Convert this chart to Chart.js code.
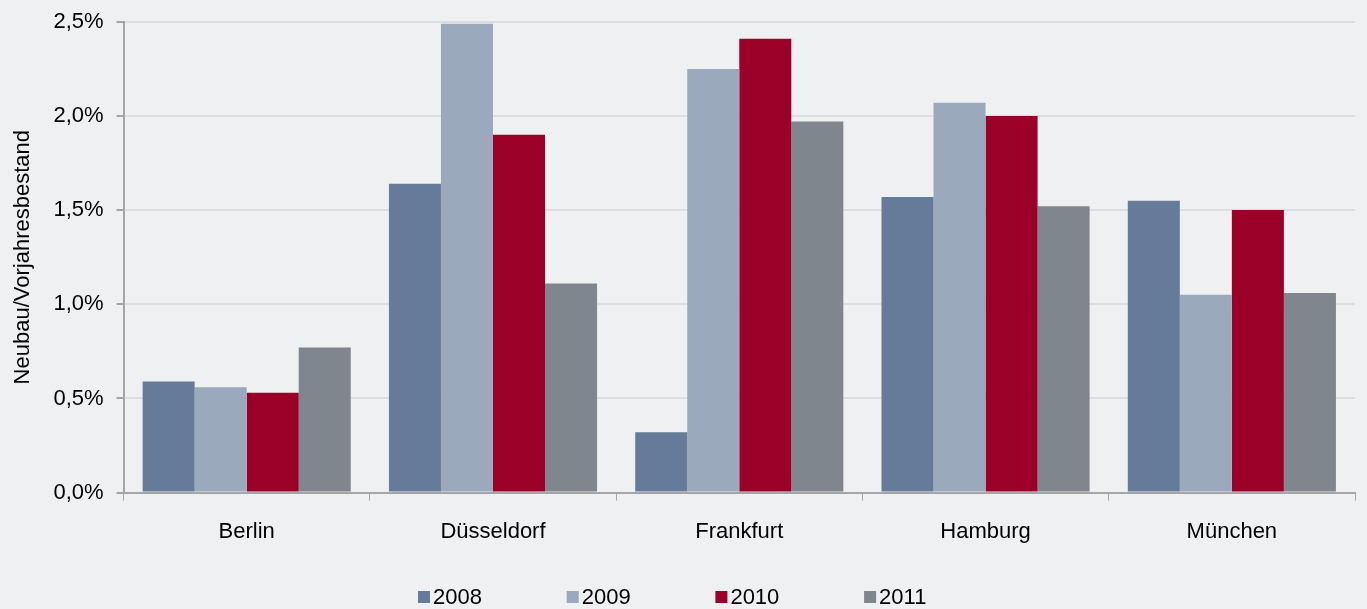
<!DOCTYPE html>
<html lang="de">
<head>
    <meta charset="UTF-8">
    <title>Neubau / Vorjahresbestand</title>
    <script src="https://cdn.jsdelivr.net/npm/chart.js"></script>
    <style>
        html, body { margin: 0; padding: 0; background: #eff0f2; }
        #wrap { width: 1367px; height: 609px; position: relative; }
    </style>
</head>
<body>
<div id="wrap">
    <canvas id="myChart" width="1367" height="609"></canvas>
</div>

<script>
    // Daten
    const staedte = ["Berlin", "Düsseldorf", "Frankfurt", "Hamburg", "München"];
    const jahre = ["2008", "2009", "2010", "2011"];
    const werte2008 = [0.59, 1.64, 0.32, 1.57, 1.55];
    const werte2009 = [0.56, 2.49, 2.25, 2.07, 1.05];
    const werte2010 = [0.53, 1.90, 2.41, 2.00, 1.50];
    const werte2011 = [0.77, 1.11, 1.97, 1.52, 1.06];
    const farben = ["#667b99", "#9aa9bb", "#9b0028", "#80868e"];

    const schrift = "'Liberation Sans Narrow', 'Liberation Sans', Arial, sans-serif";
    const groesse = 22;

    // Legende unten, mit breiten Abständen wie im Original
    const legendeUnten = {
        id: "legendeUnten",
        afterDraw(chart) {
            const ctx = chart.ctx;
            ctx.save();
            ctx.font = groesse + "px " + schrift;
            ctx.textBaseline = "middle";
            ctx.textAlign = "left";
            let x = 418;
            const y = 597;
            chart.data.datasets.forEach(ds => {
                ctx.fillStyle = ds.backgroundColor;
                ctx.fillRect(x, y - 6, 12, 12);
                ctx.fillStyle = "#000";
                ctx.fillText(ds.label, x + 15, y + 1);
                x += 148.7;
            });
            ctx.restore();
        }
    };

    const reihen = [werte2008, werte2009, werte2010, werte2011];

    new Chart(document.getElementById("myChart").getContext("2d"), {
        type: "bar",
        data: {
            labels: staedte,
            datasets: jahre.map((j, i) => ({
                label: j,
                data: reihen[i],
                backgroundColor: farben[i],
                categoryPercentage: 0.845,
                barPercentage: 1.0
            }))
        },
        options: {
            responsive: false,
            animation: false,
            layout: { padding: { top: 0, right: 12, bottom: 46, left: 10 } },
            plugins: {
                legend: { display: false },
                tooltip: { enabled: false }
            },
            scales: {
                x: {
                    offset: true,
                    grid: {
                        offset: true,
                        drawOnChartArea: false,
                        tickLength: 8,
                        tickColor: "#a3a5a8"
                    },
                    border: { color: "#a3a5a8", width: 2 },
                    ticks: {
                        color: "#000",
                        padding: 18,
                        font: { family: schrift, size: groesse }
                    }
                },
                y: {
                    min: 0,
                    max: 2.5,
                    ticks: {
                        stepSize: 0.5,
                        color: "#000",
                        padding: 13,
                        font: { family: schrift, size: groesse, lineHeight: 0.8 },
                        callback: v => v.toFixed(1).replace(".", ",") + "%"
                    },
                    grid: {
                        color: "#dcdee2",
                        lineWidth: 2,
                        tickLength: 7,
                        tickColor: "#a3a5a8"
                    },
                    border: { color: "#a3a5a8", width: 2 },
                    title: {
                        display: true,
                        text: "Neubau/Vorjahresbestand",
                        color: "#000",
                        padding: { top: 0, bottom: 4 },
                        font: { family: schrift, size: groesse }
                    }
                }
            }
        },
        plugins: [legendeUnten]
    });
</script>
</body>
</html>
